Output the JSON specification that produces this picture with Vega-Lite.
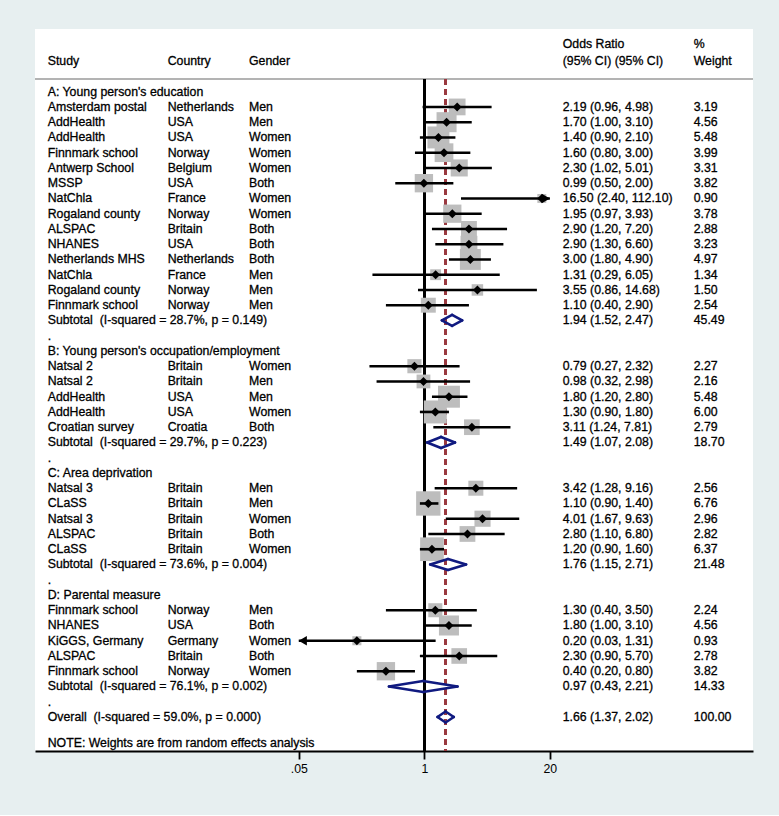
{
  "$schema": "https://vega.github.io/schema/vega-lite/v6.json",
  "width": 718,
  "height": 722,
  "padding": {"left": 34, "top": 29, "right": 27, "bottom": 40},
  "background": "#e7eff0",
  "config": {
    "view": {"fill": "white", "stroke": null},
    "font": "Liberation Sans",
    "text": {"font": "Liberation Sans", "fontSize": 12.3, "color": "black", "baseline": "middle", "align": "left", "stroke": "black", "strokeWidth": 0.3}
  },
  "data": {
    "values": [
      {"r": -3.1, "t": "h", "oh": "Odds Ratio", "wh": "%"},
      {"r": -2, "t": "h", "s": "Study", "c": "Country", "g": "Gender", "oh": "(95% CI) (95% CI)", "wh": "Weight"},
      {"r": 0, "t": "sec", "s": "A: Young person's education"},
      {"r": 1, "t": "st", "s": "Amsterdam postal", "c": "Netherlands", "g": "Men", "or": 2.19, "lo": 0.96, "hi": 4.98, "w": 3.19},
      {"r": 2, "t": "st", "s": "AddHealth", "c": "USA", "g": "Men", "or": 1.70, "lo": 1.00, "hi": 3.10, "w": 4.56},
      {"r": 3, "t": "st", "s": "AddHealth", "c": "USA", "g": "Women", "or": 1.40, "lo": 0.90, "hi": 2.10, "w": 5.48},
      {"r": 4, "t": "st", "s": "Finnmark school", "c": "Norway", "g": "Women", "or": 1.60, "lo": 0.80, "hi": 3.00, "w": 3.99},
      {"r": 5, "t": "st", "s": "Antwerp School", "c": "Belgium", "g": "Women", "or": 2.30, "lo": 1.02, "hi": 5.01, "w": 3.31},
      {"r": 6, "t": "st", "s": "MSSP", "c": "USA", "g": "Both", "or": 0.99, "lo": 0.50, "hi": 2.00, "w": 3.82},
      {"r": 7, "t": "st", "s": "NatChla", "c": "France", "g": "Women", "or": 16.50, "lo": 2.40, "hi": 112.10, "w": 0.90},
      {"r": 8, "t": "st", "s": "Rogaland county", "c": "Norway", "g": "Women", "or": 1.95, "lo": 0.97, "hi": 3.93, "w": 3.78},
      {"r": 9, "t": "st", "s": "ALSPAC", "c": "Britain", "g": "Both", "or": 2.90, "lo": 1.20, "hi": 7.20, "w": 2.88},
      {"r": 10, "t": "st", "s": "NHANES", "c": "USA", "g": "Both", "or": 2.90, "lo": 1.30, "hi": 6.60, "w": 3.23},
      {"r": 11, "t": "st", "s": "Netherlands MHS", "c": "Netherlands", "g": "Both", "or": 3.00, "lo": 1.80, "hi": 4.90, "w": 4.97},
      {"r": 12, "t": "st", "s": "NatChla", "c": "France", "g": "Men", "or": 1.31, "lo": 0.29, "hi": 6.05, "w": 1.34},
      {"r": 13, "t": "st", "s": "Rogaland county", "c": "Norway", "g": "Men", "or": 3.55, "lo": 0.86, "hi": 14.68, "w": 1.50},
      {"r": 14, "t": "st", "s": "Finnmark school", "c": "Norway", "g": "Men", "or": 1.10, "lo": 0.40, "hi": 2.90, "w": 2.54},
      {"r": 15, "t": "sub", "s": "Subtotal \u00a0(I-squared = 28.7%, p = 0.149)", "or": 1.94, "lo": 1.52, "hi": 2.47, "w": 45.49},
      {"r": 16, "t": "dot", "s": "."},
      {"r": 17, "t": "sec", "s": "B: Young person's occupation/employment"},
      {"r": 18, "t": "st", "s": "Natsal 2", "c": "Britain", "g": "Women", "or": 0.79, "lo": 0.27, "hi": 2.32, "w": 2.27},
      {"r": 19, "t": "st", "s": "Natsal 2", "c": "Britain", "g": "Men", "or": 0.98, "lo": 0.32, "hi": 2.98, "w": 2.16},
      {"r": 20, "t": "st", "s": "AddHealth", "c": "USA", "g": "Men", "or": 1.80, "lo": 1.20, "hi": 2.80, "w": 5.48},
      {"r": 21, "t": "st", "s": "AddHealth", "c": "USA", "g": "Women", "or": 1.30, "lo": 0.90, "hi": 1.80, "w": 6.00},
      {"r": 22, "t": "st", "s": "Croatian survey", "c": "Croatia", "g": "Both", "or": 3.11, "lo": 1.24, "hi": 7.81, "w": 2.79},
      {"r": 23, "t": "sub", "s": "Subtotal \u00a0(I-squared = 29.7%, p = 0.223)", "or": 1.49, "lo": 1.07, "hi": 2.08, "w": 18.70},
      {"r": 24, "t": "dot", "s": "."},
      {"r": 25, "t": "sec", "s": "C: Area deprivation"},
      {"r": 26, "t": "st", "s": "Natsal 3", "c": "Britain", "g": "Men", "or": 3.42, "lo": 1.28, "hi": 9.16, "w": 2.56},
      {"r": 27, "t": "st", "s": "CLaSS", "c": "Britain", "g": "Men", "or": 1.10, "lo": 0.90, "hi": 1.40, "w": 6.76},
      {"r": 28, "t": "st", "s": "Natsal 3", "c": "Britain", "g": "Women", "or": 4.01, "lo": 1.67, "hi": 9.63, "w": 2.96},
      {"r": 29, "t": "st", "s": "ALSPAC", "c": "Britain", "g": "Both", "or": 2.80, "lo": 1.10, "hi": 6.80, "w": 2.82},
      {"r": 30, "t": "st", "s": "CLaSS", "c": "Britain", "g": "Women", "or": 1.20, "lo": 0.90, "hi": 1.60, "w": 6.37},
      {"r": 31, "t": "sub", "s": "Subtotal \u00a0(I-squared = 73.6%, p = 0.004)", "or": 1.76, "lo": 1.15, "hi": 2.71, "w": 21.48},
      {"r": 32, "t": "dot", "s": "."},
      {"r": 33, "t": "sec", "s": "D: Parental measure"},
      {"r": 34, "t": "st", "s": "Finnmark school", "c": "Norway", "g": "Men", "or": 1.30, "lo": 0.40, "hi": 3.50, "w": 2.24},
      {"r": 35, "t": "st", "s": "NHANES", "c": "USA", "g": "Both", "or": 1.80, "lo": 1.00, "hi": 3.10, "w": 4.56},
      {"r": 36, "t": "st", "s": "KiGGS, Germany", "c": "Germany", "g": "Women", "or": 0.20, "lo": 0.03, "hi": 1.31, "w": 0.93},
      {"r": 37, "t": "st", "s": "ALSPAC", "c": "Britain", "g": "Both", "or": 2.30, "lo": 0.90, "hi": 5.70, "w": 2.78},
      {"r": 38, "t": "st", "s": "Finnmark school", "c": "Norway", "g": "Women", "or": 0.40, "lo": 0.20, "hi": 0.80, "w": 3.82},
      {"r": 39, "t": "sub", "s": "Subtotal \u00a0(I-squared = 76.1%, p = 0.002)", "or": 0.97, "lo": 0.43, "hi": 2.21, "w": 14.33},
      {"r": 40, "t": "dot", "s": "."},
      {"r": 41, "t": "ov", "s": "Overall \u00a0(I-squared = 59.0%, p = 0.000)", "or": 1.66, "lo": 1.37, "hi": 2.02, "w": 100.00},
      {"r": 42.7, "t": "note", "s": "NOTE: Weights are from random effects analysis"}
    ]
  },
  "transform": [
    {"calculate": "isValid(datum.or) ? format(datum.or,'.2f') + ' (' + format(datum.lo,'.2f') + ', ' + format(datum.hi,'.2f') + ')' : (isValid(datum.oh) ? datum.oh : '')", "as": "ort"},
    {"calculate": "isValid(datum.w) ? format(datum.w,'.2f') : (isValid(datum.wh) ? datum.wh : '')", "as": "wt"},
    {"calculate": "isValid(datum.lo) ? max(datum.lo, 0.05) : null", "as": "loc"},
    {"calculate": "isValid(datum.hi) ? min(datum.hi, 20) : null", "as": "hic"}
  ],
  "encoding": {
    "y": {"field": "r", "type": "quantitative", "scale": {"domain": [-4.11, 43.23], "reverse": true, "nice": false, "zero": false}, "axis": null}
  },
  "layer": [
    {
      "mark": {"type": "rule", "stroke": "#b3b3b3", "strokeWidth": 2},
      "encoding": {"y": {"datum": -0.83, "type": "quantitative"}}
    },
    {
      "mark": {"type": "rule", "stroke": "black", "strokeWidth": 1.8},
      "encoding": {
        "x": {"datum": 1, "type": "quantitative"},
        "y": {"datum": -0.83, "type": "quantitative"},
        "y2": {"datum": 43.23}
      }
    },
    {
      "mark": {"type": "rule", "stroke": "#9a3a40", "strokeWidth": 1.8, "strokeDash": [6, 4]},
      "encoding": {
        "x": {"datum": 1.66, "type": "quantitative"},
        "y": {"datum": -0.83, "type": "quantitative"},
        "y2": {"datum": 43.23}
      }
    },
    {
      "transform": [{"filter": "datum.t == 'st'"}],
      "mark": {"type": "square", "color": "#bdbdbd", "opacity": 1},
      "encoding": {
        "x": {"field": "or", "type": "quantitative"},
        "size": {"field": "w", "type": "quantitative", "scale": {"type": "linear", "domain": [0, 10], "range": [0, 880]}, "legend": null}
      }
    },
    {
      "transform": [{"filter": "datum.t == 'st'"}],
      "mark": {"type": "rule", "stroke": "black", "strokeWidth": 2.6},
      "encoding": {
        "x": {"field": "loc", "type": "quantitative"},
        "x2": {"field": "hic"}
      }
    },
    {
      "transform": [{"filter": "datum.t == 'st'"}],
      "mark": {"type": "point", "shape": "diamond", "filled": true, "color": "black", "opacity": 1, "size": 80},
      "encoding": {"x": {"field": "or", "type": "quantitative"}}
    },
    {
      "transform": [{"filter": "datum.t == 'st' && datum.hi > 20"}],
      "mark": {"type": "point", "shape": "triangle-right", "filled": true, "color": "black", "opacity": 1, "size": 90, "xOffset": -4},
      "encoding": {"x": {"field": "hic", "type": "quantitative"}}
    },
    {
      "transform": [{"filter": "datum.t == 'st' && datum.lo < 0.05"}],
      "mark": {"type": "point", "shape": "triangle-left", "filled": true, "color": "black", "opacity": 1, "size": 90, "xOffset": 4},
      "encoding": {"x": {"field": "loc", "type": "quantitative"}}
    },
    {
      "transform": [{"filter": "datum.t == 'sub' || datum.t == 'ov'"}],
      "mark": {"type": "rule", "stroke": "#101a80", "strokeWidth": 2.6, "strokeCap": "round", "y2Offset": -5.5},
      "encoding": {
        "x": {"field": "lo", "type": "quantitative"},
        "x2": {"field": "or"},
        "y2": {"field": "r"}
      }
    },
    {
      "transform": [{"filter": "datum.t == 'sub' || datum.t == 'ov'"}],
      "mark": {"type": "rule", "stroke": "#101a80", "strokeWidth": 2.6, "strokeCap": "round", "y2Offset": 5.5},
      "encoding": {
        "x": {"field": "lo", "type": "quantitative"},
        "x2": {"field": "or"},
        "y2": {"field": "r"}
      }
    },
    {
      "transform": [{"filter": "datum.t == 'sub' || datum.t == 'ov'"}],
      "mark": {"type": "rule", "stroke": "#101a80", "strokeWidth": 2.6, "strokeCap": "round", "yOffset": -5.5},
      "encoding": {
        "x": {"field": "or", "type": "quantitative"},
        "x2": {"field": "hi"},
        "y2": {"field": "r"}
      }
    },
    {
      "transform": [{"filter": "datum.t == 'sub' || datum.t == 'ov'"}],
      "mark": {"type": "rule", "stroke": "#101a80", "strokeWidth": 2.6, "strokeCap": "round", "yOffset": 5.5},
      "encoding": {
        "x": {"field": "or", "type": "quantitative"},
        "x2": {"field": "hi"},
        "y2": {"field": "r"}
      }
    },
    {
      "transform": [{"filter": "isValid(datum.s)"}],
      "mark": {"type": "text"},
      "encoding": {
        "x": {"datum": 0.0001252, "type": "quantitative", "scale": {"type": "log", "domain": [0.0000924, 2547], "nice": false}, "axis": {"values": [0.05, 1, 20], "labelExpr": "datum.value < 0.5 ? '.05' : datum.value < 5 ? '1' : '20'", "title": null, "grid": false, "domainColor": "black", "domainWidth": 1.8, "tickColor": "black", "tickWidth": 1.8, "tickSize": 8, "labelFontSize": 12.3, "labelFont": "Liberation Sans", "labelColor": "black", "labelPadding": 3, "labelFlush": false}},
        "text": {"field": "s"}
      }
    },
    {
      "transform": [{"filter": "isValid(datum.c)"}],
      "mark": {"type": "text"},
      "encoding": {
        "x": {"datum": 0.00219, "type": "quantitative"},
        "text": {"field": "c"}
      }
    },
    {
      "transform": [{"filter": "isValid(datum.g)"}],
      "mark": {"type": "text"},
      "encoding": {
        "x": {"datum": 0.01526, "type": "quantitative"},
        "text": {"field": "g"}
      }
    },
    {
      "mark": {"type": "text"},
      "encoding": {
        "x": {"datum": 27.19, "type": "quantitative"},
        "text": {"field": "ort"}
      }
    },
    {
      "mark": {"type": "text"},
      "encoding": {
        "x": {"datum": 619, "type": "quantitative"},
        "text": {"field": "wt"}
      }
    }
  ]
}
